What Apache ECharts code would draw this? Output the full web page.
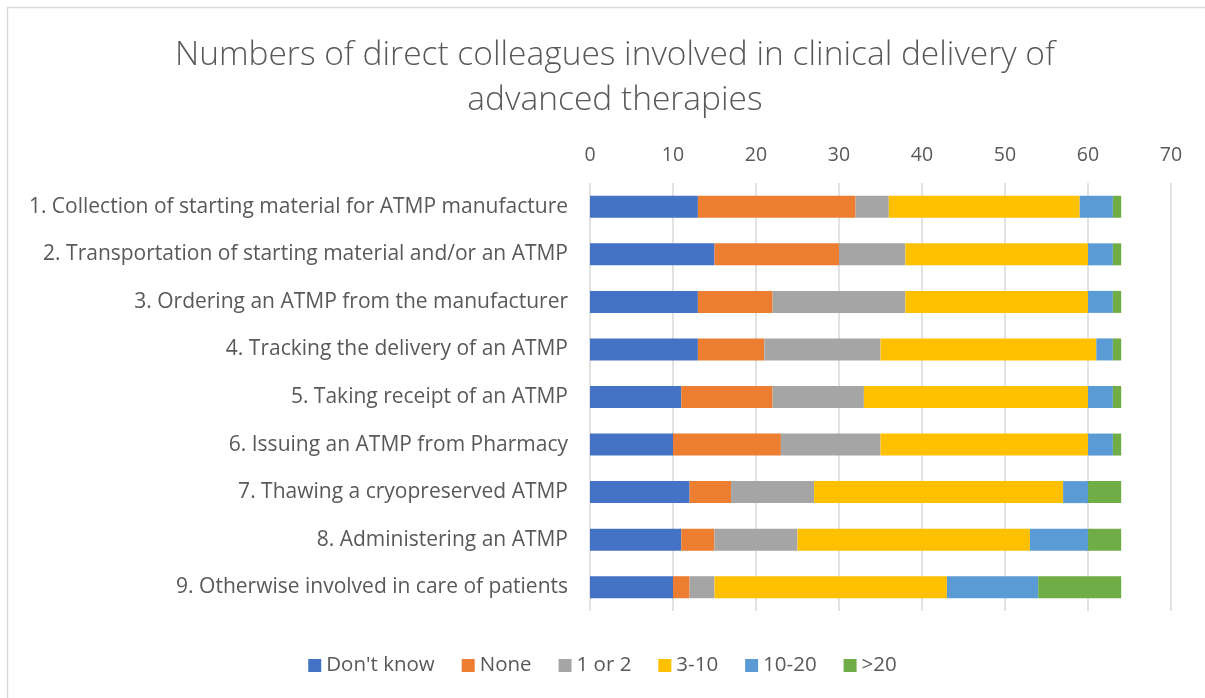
<!DOCTYPE html>
<html>
<head>
<meta charset="utf-8">
<script src="https://cdn.jsdelivr.net/npm/echarts@6/dist/echarts.min.js"></script>
<style>
  html, body { margin: 0; padding: 0; background: #fff; }
  #main { width: 1205px; height: 698px; }
</style>
</head>
<body>
<div id="main"></div>
<script>
var categories = [
    '1. Collection of starting material for ATMP manufacture',
    '2. Transportation of starting material and/or an ATMP',
    '3. Ordering an ATMP from the manufacturer',
    '4. Tracking the delivery of an ATMP',
    '5. Taking receipt of an ATMP',
    '6. Issuing an ATMP from Pharmacy',
    '7. Thawing a cryopreserved ATMP',
    '8. Administering an ATMP',
    '9. Otherwise involved in care of patients'
];
var dontKnow = [13, 15, 13, 13, 11, 10, 12, 11, 10];
var none     = [19, 15, 9, 8, 11, 13, 5, 4, 2];
var oneOrTwo = [4, 8, 16, 14, 11, 12, 10, 10, 3];
var threeTen = [23, 22, 22, 26, 27, 25, 30, 28, 28];
var tenTwenty = [4, 3, 3, 2, 3, 3, 3, 7, 11];
var overTwenty = [1, 1, 1, 1, 1, 1, 4, 4, 10];

var seriesNames = ["Don't know", 'None', '1 or 2', '3-10', '10-20', '>20'];
var seriesData = [dontKnow, none, oneOrTwo, threeTen, tenTwenty, overTwenty];
var colors = ['#4472c4', '#ed7d31', '#a5a5a5', '#ffc000', '#5b9bd5', '#70ad47'];

var font = "'Open Sans', sans-serif";
var textColor = '#595959';

var myChart = echarts.init(document.getElementById('main'));
var option = {
    color: colors,
    animation: false,
    title: {
        text: 'Numbers of direct colleagues involved in clinical delivery of\nadvanced therapies',
        left: 610,
        textAlign: 'center',
        top: 28,
        textStyle: {
            fontFamily: font,
            fontWeight: 300,
            fontSize: 33.5,
            lineHeight: 45,
            color: textColor
        }
    },
    graphic: [{
        type: 'rect',
        shape: {x: 7.5, y: 7.5, width: 1300, height: 1000},
        style: {fill: 'none', stroke: '#d9d9d9', lineWidth: 1.5},
        silent: true
    }],
    legend: {
        bottom: 17,
        left: 'center',
        itemWidth: 13,
        itemHeight: 13,
        itemGap: 27,
        icon: 'rect',
        textStyle: {fontFamily: font, fontSize: 20.5, color: textColor},
        data: seriesNames
    },
    grid: {
        left: 590,
        right: 34,
        top: 183,
        bottom: 87
    },
    xAxis: {
        type: 'value',
        position: 'top',
        min: 0,
        max: 70,
        interval: 10,
        axisLine: {show: false},
        axisTick: {show: false},
        axisLabel: {fontFamily: font, fontSize: 19.5, color: textColor, margin: 18},
        splitLine: {lineStyle: {color: '#d9d9d9', width: 1.5}}
    },
    yAxis: {
        type: 'category',
        inverse: true,
        data: categories,
        axisLine: {show: false},
        axisTick: {show: false},
        axisLabel: {fontFamily: font, fontSize: 21, color: textColor, margin: 22}
    },
    series: seriesNames.map(function (name, i) {
        return {
            name: name,
            type: 'bar',
            stack: 'total',
            barWidth: 22,
            data: seriesData[i]
        };
    })
};
myChart.setOption(option);
</script>
</body>
</html>
